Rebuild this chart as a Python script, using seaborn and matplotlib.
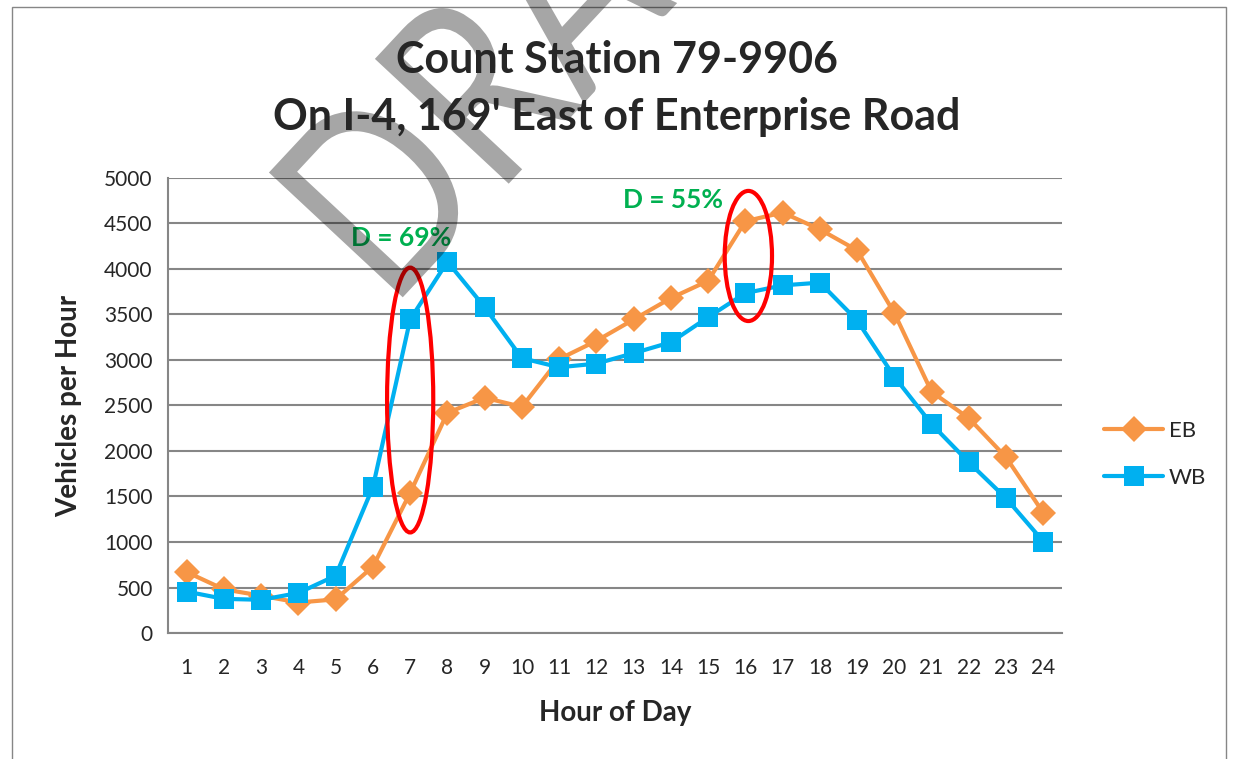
import matplotlib.pyplot as plt
from matplotlib.patches import Ellipse, Rectangle, PathPatch
from matplotlib.textpath import TextPath
from matplotlib.font_manager import FontProperties
from matplotlib.transforms import Affine2D, IdentityTransform
from matplotlib.ticker import MultipleLocator, FixedLocator
import pandas as pd
import seaborn as sns

# Hourly counts
hours = list(range(1, 25))
eb = [670, 480, 410, 335, 370, 730, 1540, 2420, 2585, 2485, 3010, 3210,
      3445, 3680, 3870, 4525, 4620, 4435, 4205, 3515, 2650, 2360, 1930, 1320]
wb = [455, 375, 365, 440, 630, 1605, 3445, 4080, 3580, 3020, 2920, 2960,
      3075, 3195, 3470, 3735, 3820, 3850, 3435, 2815, 2295, 1875, 1480, 1005]

df_eb = pd.DataFrame({'hour': hours, 'vph': eb})
df_wb = pd.DataFrame({'hour': hours, 'vph': wb})

sns.set_style('white')
plt.rcParams['font.family'] = ['Lato', 'DejaVu Sans']

grey = '#868686'
fig = plt.figure(figsize=(12.33, 7.59), dpi=100)
ax = fig.add_axes([0.1363, 0.166, 0.725, 0.5995])

sns.lineplot(data=df_eb, x='hour', y='vph', color='#F79646', marker='D',
             linewidth=3, markersize=13, markeredgewidth=0, label='EB',
             ax=ax, zorder=3)
sns.lineplot(data=df_wb, x='hour', y='vph', color='#00B0F0', marker='s',
             linewidth=3, markersize=14.5, markeredgewidth=0, label='WB',
             ax=ax, zorder=3)

ax.set_xlim(0.5, 24.5)
ax.set_ylim(0, 5000)
ax.yaxis.set_major_locator(MultipleLocator(500))
ax.xaxis.set_major_locator(FixedLocator(hours))
ax.xaxis.set_minor_locator(FixedLocator([h + 0.5 for h in [0] + hours]))
ax.tick_params(axis='x', which='major', length=0, labelsize=15, pad=18)
ax.tick_params(axis='x', which='minor', length=6, width=1.5, color=grey)
ax.tick_params(axis='y', length=6, width=1.5, color=grey, labelsize=15, pad=5)
ax.yaxis.grid(True, color=grey, linewidth=1.5)
ax.xaxis.grid(False)
for s in ['top', 'right']:
    ax.spines[s].set_visible(False)
for s in ['left', 'bottom']:
    ax.spines[s].set_color(grey)
    ax.spines[s].set_linewidth(1.5)

ax.set_xlabel('Hour of Day', fontsize=20, fontweight='bold', labelpad=16)
ax.set_ylabel('Vehicles per Hour', fontsize=20, fontweight='bold', labelpad=16)

fig.text(0.5, 1 - 73 / 759, 'Count Station 79-9906', ha='center',
         va='baseline', fontsize=31, fontweight='bold', zorder=5)
fig.text(0.5, 1 - 130 / 759, "On I-4, 169' East of Enterprise Road",
         ha='center', va='baseline', fontsize=31, fontweight='bold', zorder=5)

# directional split annotations
ax.add_patch(Ellipse((7, 2560), 1.24, 2910, fill=False, edgecolor='red',
                     linewidth=3, zorder=4))
ax.add_patch(Ellipse((16.08, 4143), 1.27, 1430, fill=False, edgecolor='red',
                     linewidth=3, zorder=4))
ax.text(6.75, 4341, 'D = 69%', color='#00B050', fontsize=19,
        fontweight='bold', ha='center', va='center', zorder=5)
ax.text(14.06, 4758, 'D = 55%', color='#00B050', fontsize=19,
        fontweight='bold', ha='center', va='center', zorder=5)

ax.legend(loc='center left', bbox_to_anchor=(1.025, 0.393), frameon=False,
          fontsize=16, handlelength=2.65, labelspacing=1.2,
          handletextpad=0.25)

# chart border
fig.patches.append(Rectangle((12 / 1233, -0.1), 1214 / 1233, 1.1 - 7 / 759,
                             transform=fig.transFigure, fill=False,
                             edgecolor=grey, linewidth=1, zorder=0))

# DRAFT watermark: large translucent glyphs, placed in pixel space
fp = FontProperties(family='Lato', weight='normal')
d_path = TextPath((0, 0), 'D', size=1, prop=fp)
lsb = d_path.vertices[:, 0].min()
cap = d_path.vertices[:, 1].max()
wm_path = TextPath((0, 0), 'DRAFT', size=1, prop=fp)
wm_scale = 183 / cap
wm_tr = (Affine2D().translate(-lsb, 0).scale(wm_scale * 0.8, wm_scale)
         .rotate_deg(47).translate(390, 448))
fig.add_artist(PathPatch(wm_tr.transform_path(wm_path),
                         transform=IdentityTransform(),
                         facecolor=(0, 0, 0, 0.35), edgecolor='none',
                         zorder=4))

fig.savefig('out.png', dpi=100)
